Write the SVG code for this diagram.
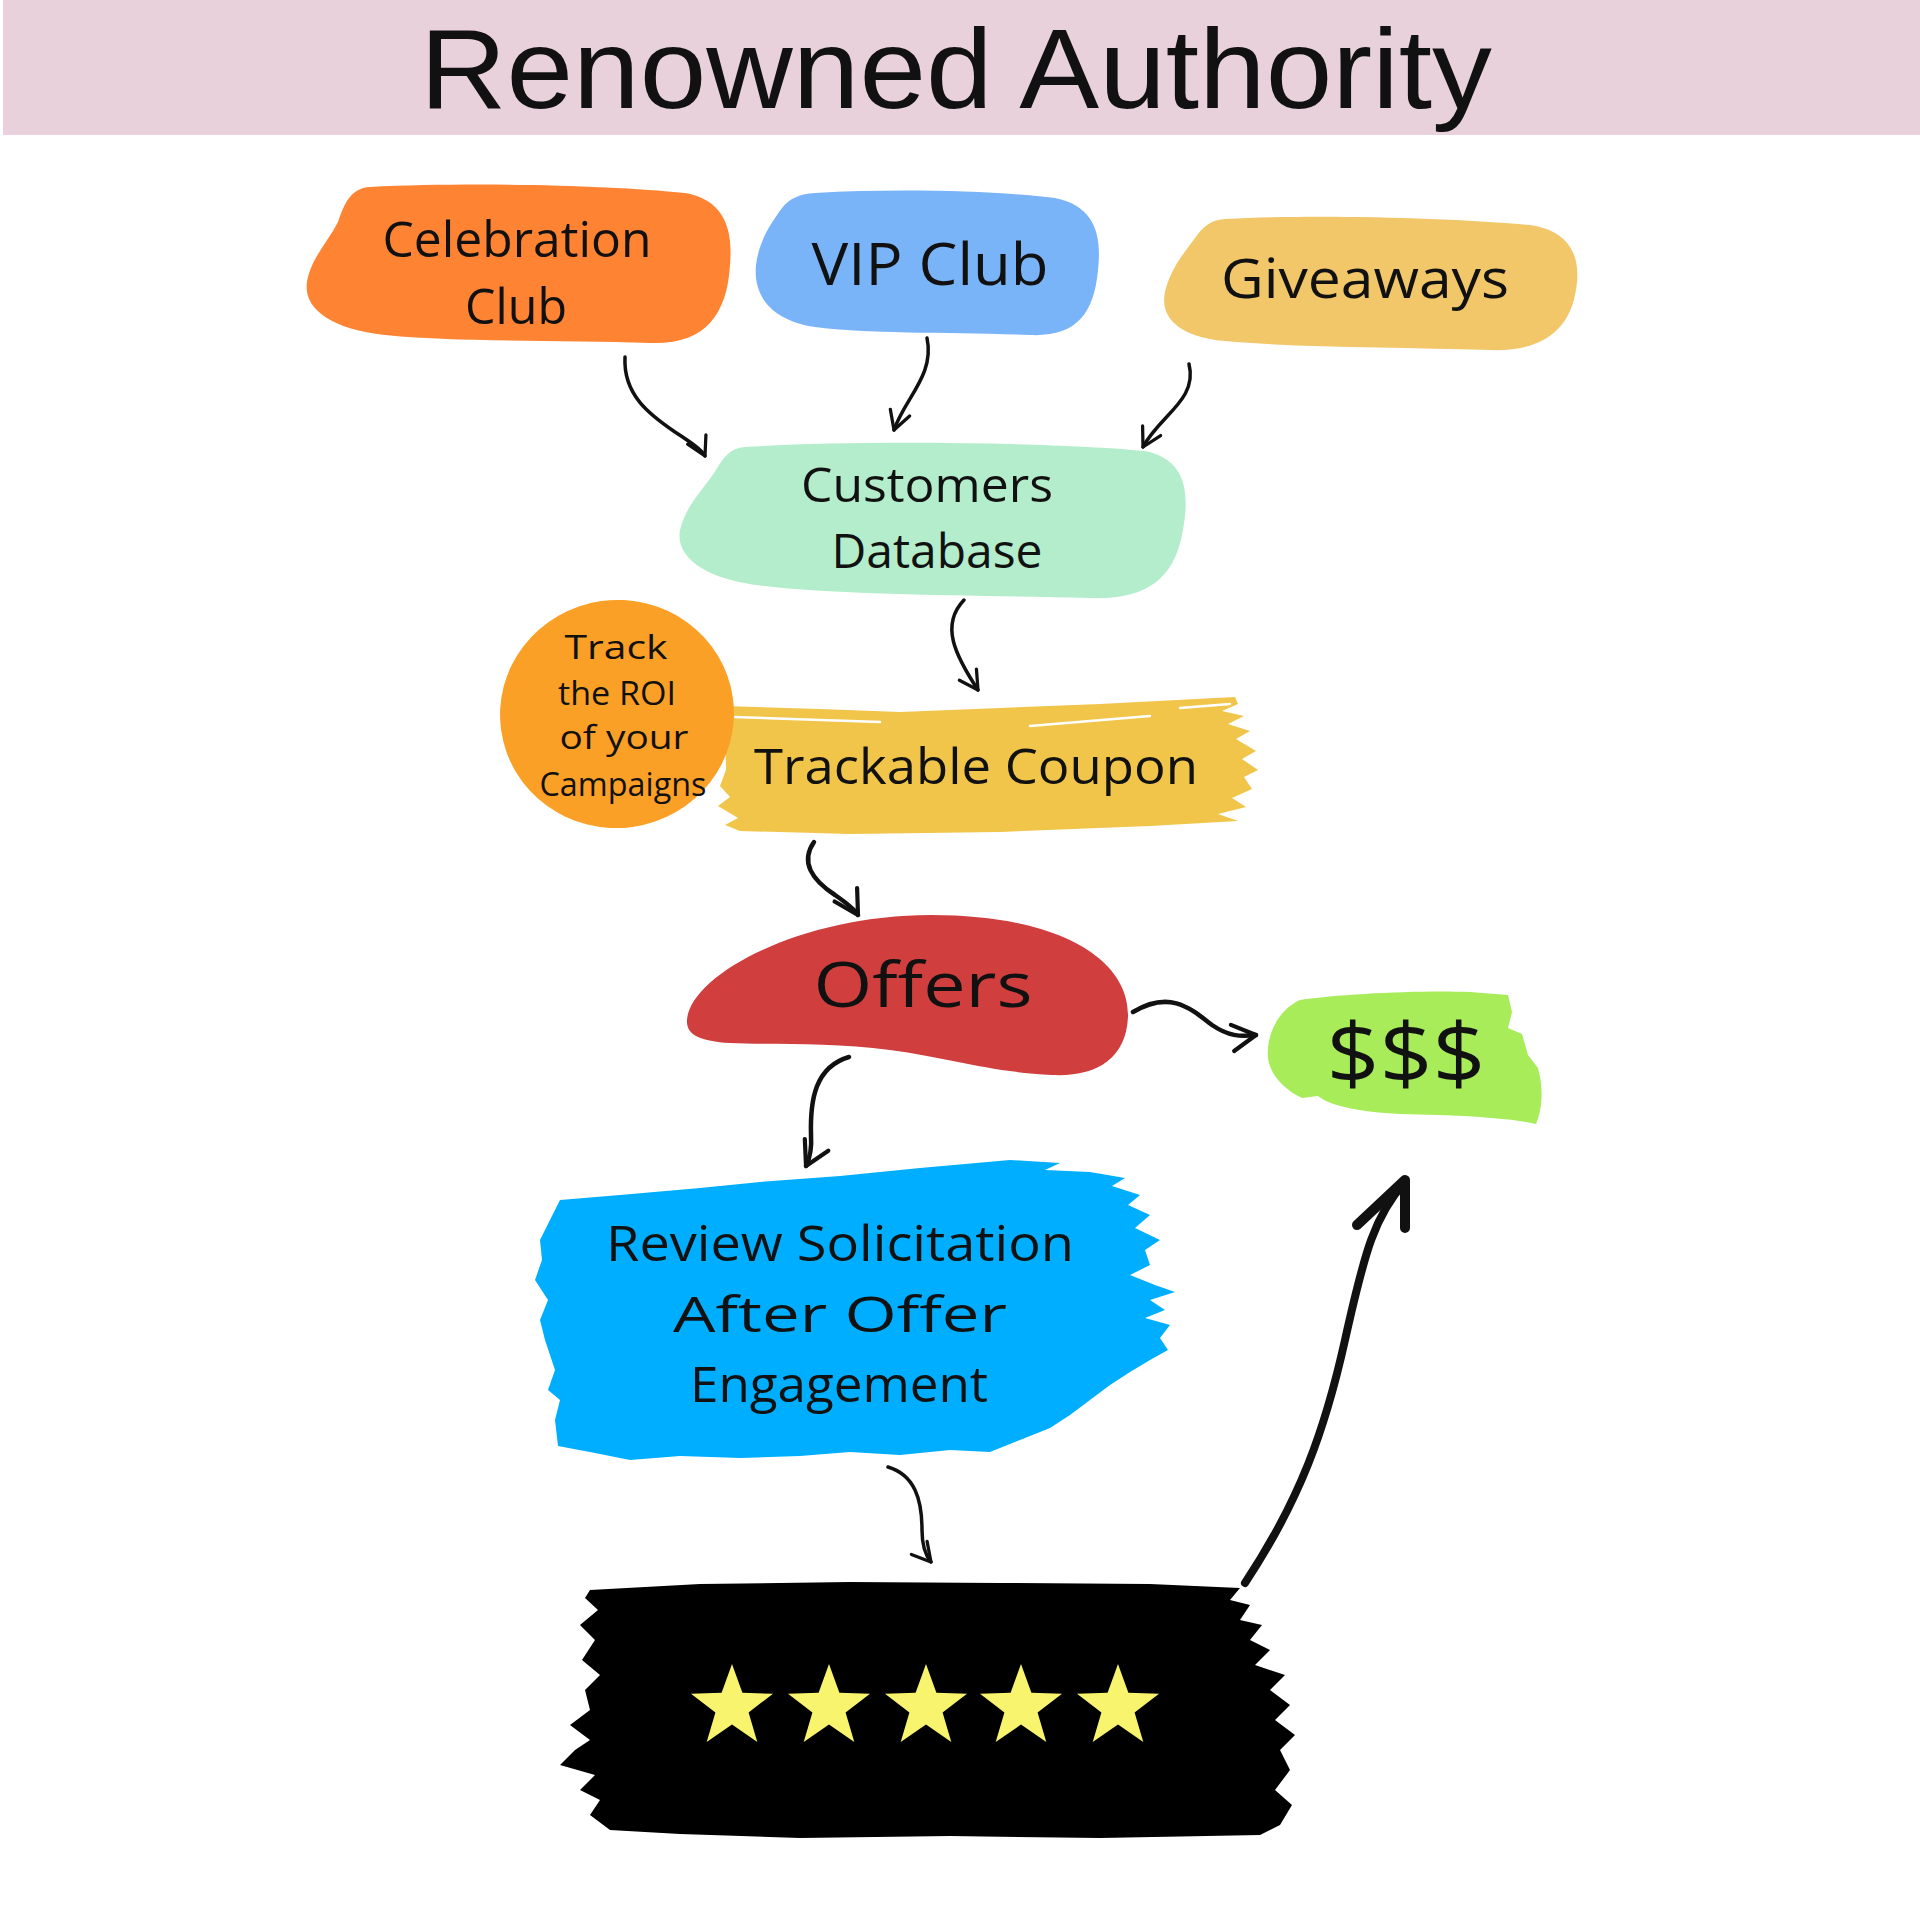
<svg xmlns="http://www.w3.org/2000/svg" width="1920" height="1920" viewBox="0 0 1920 1920">
<defs>
<style>
.t{font-family:"Open Sans","Noto Sans",sans-serif;fill:#111;text-anchor:middle}
.a{fill:none;stroke:#111;stroke-width:3.5;stroke-linecap:round;stroke-linejoin:round}
.b{stroke-width:4.5}
.star{fill:#F8F46E}
</style>
<marker id="h" viewBox="0 0 12 12" refX="10" refY="6" markerWidth="7" markerHeight="7" orient="auto" markerUnits="strokeWidth">
<path d="M1,1 L10,6 L1,11" fill="none" stroke="#111" stroke-width="1.6" stroke-linecap="round" stroke-linejoin="round"/>
</marker>
<polygon id="st" points="0,-43 10.4,-14.2 41,-13.3 16.6,5.4 25.3,35 0,17.6 -25.3,35 -16.6,5.4 -41,-13.3 -10.4,-14.2"/>
</defs>
<rect width="1920" height="1920" fill="#fff"/>
<g id="header">
<rect x="3" y="0" width="1917" height="135" fill="#E9D1DC"/>
<text x="956" y="108" font-family="Liberation Sans,Arial,sans-serif" font-size="113" fill="#111" text-anchor="middle" textLength="1072" lengthAdjust="spacingAndGlyphs">Renowned Authority</text>
</g>
<g id="celebration">
<path d="M370,187 C470,182 610,185 685,193 C725,200 733,230 730,265 C727,315 705,345 650,343 C560,340 450,342 385,335 C330,329 303,308 307,282 C311,258 328,242 338,222 C344,205 350,188 370,187 Z" fill="#FE8332"/>
<text class="t" x="517" y="257" font-size="50" textLength="269" lengthAdjust="spacingAndGlyphs">Celebration</text>
<text class="t" x="516" y="324" font-size="50" textLength="102" lengthAdjust="spacingAndGlyphs">Club</text>
</g>
<g id="vip">
<path d="M815,193 C900,188 1000,191 1055,198 C1095,206 1102,235 1098,270 C1094,315 1075,337 1030,335 C950,332 870,334 815,327 C770,320 753,295 756,265 C759,240 772,222 782,208 C790,198 800,194 815,193 Z" fill="#7AB4F8"/>
<text class="t" x="930" y="285" font-size="58" textLength="237" lengthAdjust="spacingAndGlyphs">VIP Club</text>
</g>
<g id="giveaways">
<path d="M1225,219 C1320,214 1450,218 1530,225 C1575,232 1582,262 1575,295 C1567,335 1535,352 1490,350 C1400,347 1300,348 1225,341 C1175,336 1160,315 1165,292 C1170,270 1183,254 1195,238 C1203,227 1210,220 1225,219 Z" fill="#F1C76A"/>
<text class="t" x="1365" y="298" font-size="54" textLength="288" lengthAdjust="spacingAndGlyphs">Giveaways</text>
</g>
<g id="database">
<path d="M745,447 C850,440 1050,442 1145,451 C1188,460 1190,495 1182,535 C1173,580 1145,600 1090,598 C980,595 850,596 765,586 C705,580 675,557 680,530 C686,505 703,490 716,470 C724,457 730,448 745,447 Z" fill="#B3EDCB"/>
<text class="t" x="927" y="502" font-size="48" textLength="252" lengthAdjust="spacingAndGlyphs">Customers</text>
<text class="t" x="937" y="568" font-size="48" textLength="211" lengthAdjust="spacingAndGlyphs">Database</text>
</g>
<g id="coupon">
<path d="M725,706 L820,709 L900,712 L1000,708 L1100,704 L1235,697 L1238,704 L1222,711 L1244,716 L1228,724 L1250,731 L1236,739 L1256,751 L1242,759 L1258,770 L1244,777 L1252,789 L1232,798 L1246,807 L1218,814 L1238,821 L1150,826 L1000,832 L850,834 L740,831 L725,825 L738,818 L718,806 L730,797 L720,786 L726,770 Z" fill="#F0C54A"/>
<path d="M735,717 L880,722 M1030,726 L1150,716 M1180,708 L1230,704" stroke="#fff" stroke-width="2.5" fill="none" stroke-linecap="round"/>
<text class="t" x="976" y="784" font-size="50" textLength="444" lengthAdjust="spacingAndGlyphs">Trackable Coupon</text>
</g>
<g id="track">
<ellipse cx="617" cy="714" rx="117" ry="114" transform="rotate(-8 617 714)" fill="#FBA027"/>
<text class="t" x="616" y="659" font-size="33" textLength="103" lengthAdjust="spacingAndGlyphs">Track</text>
<text class="t" x="617" y="705" font-size="33" textLength="118" lengthAdjust="spacingAndGlyphs">the ROI</text>
<text class="t" x="624" y="749" font-size="33" textLength="129" lengthAdjust="spacingAndGlyphs">of your</text>
<text class="t" x="623" y="796" font-size="33" textLength="167" lengthAdjust="spacingAndGlyphs">Campaigns</text>
</g>
<g id="offers">
<path d="M687,1020 C690,975 800,915 931,915 C1060,915 1130,960 1128,1017 C1126,1060 1095,1077 1052,1075 C990,1072 950,1058 890,1050 C830,1042 770,1045 730,1043 C700,1041 686,1035 687,1020 Z" fill="#D03E3E"/>
<text class="t" x="923" y="1007" font-size="62" textLength="219" lengthAdjust="spacingAndGlyphs">Offers</text>
</g>
<g id="money">
<path d="M1300,1000 C1340,994 1420,990 1470,992 L1508,995 L1512,1012 L1508,1028 L1522,1034 L1528,1055 L1538,1068 C1544,1090 1542,1110 1536,1124 C1510,1118 1460,1115 1400,1114 C1360,1112 1330,1106 1318,1096 L1302,1098 C1285,1090 1270,1075 1268,1058 C1266,1035 1278,1010 1300,1000 Z" fill="#A8EC5A"/>
<text class="t" x="1406" y="1084" font-size="84" textLength="159" lengthAdjust="spacingAndGlyphs">$$$</text>
</g>
<g id="review">
<path d="M560,1200 L620,1195 L700,1188 L760,1182 L840,1176 L920,1168 L1010,1160 L1060,1163 L1045,1170 L1090,1172 L1125,1178 L1112,1186 L1140,1195 L1128,1205 L1150,1215 L1135,1228 L1160,1240 L1145,1250 L1150,1265 L1130,1275 L1155,1285 L1175,1292 L1150,1300 L1165,1310 L1145,1318 L1170,1325 L1160,1338 L1168,1350 L1150,1360 L1130,1372 L1110,1385 L1090,1400 L1070,1415 L1050,1428 L1020,1440 L990,1452 L950,1450 L900,1455 L850,1452 L800,1456 L740,1458 L680,1456 L630,1460 L590,1452 L558,1446 L555,1420 L560,1400 L548,1390 L555,1370 L545,1340 L540,1320 L548,1300 L535,1280 L542,1260 L540,1240 L550,1220 Z" fill="#00AEFF"/>
<text class="t" x="840" y="1261" font-size="50" textLength="468" lengthAdjust="spacingAndGlyphs">Review Solicitation</text>
<text class="t" x="840" y="1332" font-size="50" textLength="334" lengthAdjust="spacingAndGlyphs">After Offer</text>
<text class="t" x="839" y="1402" font-size="50" textLength="298" lengthAdjust="spacingAndGlyphs">Engagement</text>
</g>
<g id="stars">
<path d="M590,1590 L700,1584 L850,1582 L1000,1583 L1150,1584 L1240,1588 L1230,1600 L1250,1605 L1240,1620 L1262,1625 L1250,1640 L1270,1650 L1255,1665 L1285,1675 L1270,1690 L1290,1705 L1275,1720 L1295,1735 L1280,1750 L1290,1770 L1275,1790 L1292,1805 L1280,1825 L1260,1835 L1100,1838 L950,1836 L800,1838 L680,1834 L610,1830 L590,1815 L600,1800 L580,1790 L595,1775 L560,1765 L575,1750 L590,1740 L570,1725 L590,1710 L585,1690 L600,1675 L582,1660 L595,1640 L580,1625 L598,1610 L585,1598 Z" fill="#000"/>
<use href="#st" class="star" x="732" y="1707"/>
<use href="#st" class="star" x="829" y="1707"/>
<use href="#st" class="star" x="926" y="1707"/>
<use href="#st" class="star" x="1021" y="1707"/>
<use href="#st" class="star" x="1118" y="1707"/>
</g>
<g id="connectors">
<path class="a" marker-end="url(#h)" d="M625,357 C623,395 650,415 675,432 C692,443 702,450 705,456"/>
<path class="a" marker-end="url(#h)" d="M927,338 C935,375 905,398 894,430"/>
<path class="a" marker-end="url(#h)" d="M1189,364 C1198,400 1160,415 1143,447"/>
<path class="a" marker-end="url(#h)" d="M964,600 C940,625 955,655 978,690"/>
<path class="a b" marker-end="url(#h)" d="M814,842 C800,862 812,880 835,895 C848,904 855,910 858,915"/>
<path class="a b" marker-end="url(#h)" d="M1133,1012 C1170,990 1190,1008 1212,1025 C1228,1036 1240,1037 1256,1035"/>
<path class="a b" marker-end="url(#h)" d="M849,1057 C815,1067 810,1100 811,1135 C812,1150 810,1158 806,1166"/>
<path class="a" marker-end="url(#h)" d="M888,1467 C915,1475 922,1500 922,1530 C922,1548 926,1556 931,1562"/>
<path d="M1245,1583 C1300,1500 1325,1430 1345,1340 C1365,1250 1375,1215 1405,1182" fill="none" stroke="#111" stroke-width="8" stroke-linecap="round"/>
<path d="M1357,1225 L1405,1180 L1405,1228" fill="none" stroke="#111" stroke-width="10" stroke-linecap="round" stroke-linejoin="round"/>
</g>
</svg>
